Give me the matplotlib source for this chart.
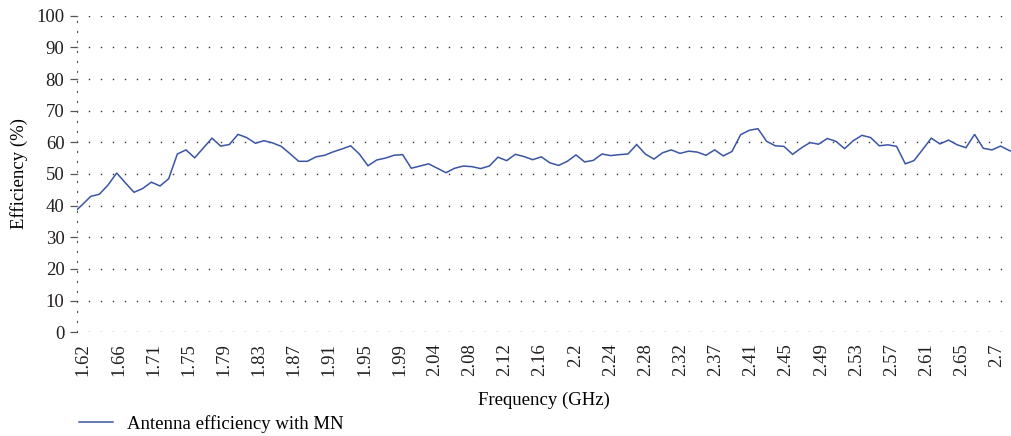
import numpy as np
import matplotlib
matplotlib.use("Agg")
import matplotlib.pyplot as plt

# Efficiency values (%) sampled along the frequency sweep (one per measurement step)
efficiency = [
    37.6, 40.2, 42.9, 43.6, 46.5, 50.3, 47.2, 44.2, 45.4, 47.4,
    46.2, 48.5, 56.3, 57.6, 55.1, 58.2, 61.3, 58.8, 59.3, 62.5,
    61.5, 59.7, 60.5, 59.8, 58.7, 56.4, 54.0, 54.0, 55.4, 55.9,
    57.0, 57.9, 58.9, 56.3, 52.6, 54.4, 55.0, 55.9, 56.1, 51.8,
    52.5, 53.2, 51.8, 50.4, 51.8, 52.5, 52.3, 51.7, 52.5, 55.3,
    54.2, 56.2, 55.5, 54.5, 55.4, 53.5, 52.7, 54.0, 56.0, 53.8,
    54.3, 56.3, 55.8, 56.1, 56.3, 59.3, 56.3, 54.7, 56.7, 57.6,
    56.5, 57.2, 56.9, 55.9, 57.6, 55.7, 57.1, 62.4, 63.8, 64.3,
    60.3, 58.9, 58.7, 56.2, 58.2, 59.9, 59.4, 61.2, 60.3, 58.0,
    60.5, 62.2, 61.5, 58.9, 59.2, 58.7, 53.2, 54.2, 57.7, 61.3,
    59.5, 60.7, 59.2, 58.3, 62.5, 58.1, 57.6, 58.8, 57.4, 56.6,
]

freq_labels = ["1.62", "1.66", "1.71", "1.75", "1.79", "1.83", "1.87", "1.91",
               "1.95", "1.99", "2.04", "2.08", "2.12", "2.16", "2.2", "2.24",
               "2.28", "2.32", "2.37", "2.41", "2.45", "2.49", "2.53", "2.57",
               "2.61", "2.65", "2.7"]

y_ticks = list(range(0, 101, 10))
series_name = "Antenna efficiency with MN"

FONT = "Liberation Serif"
FS = 13.5
LINE_COLOR = "#3b55a5"

fig = plt.figure(figsize=(10.11, 4.36), dpi=100)
ax = fig.add_axes([77 / 1011, 1 - 332.2 / 436, (1011 - 77) / 1011, (332.2 - 15.7) / 436])

x = np.arange(len(efficiency))
line, = ax.plot(x, efficiency, color=LINE_COLOR, lw=1.1, label=series_name,
                solid_joinstyle="miter")

ax.set_xlim(0.42, 108.2)
ax.set_ylim(0, 100)

# y axis
ax.set_yticks(y_ticks)
ax.set_yticklabels([str(v) for v in y_ticks], fontfamily=FONT, fontsize=FS, color="#231f20")
ax.tick_params(axis="y", length=5, width=0.9, color="#555555", pad=4)

# horizontal dotted grid (dots every ~12 px)
for v in y_ticks:
    ax.axhline(v, color="#333333", lw=1.0, ls=(0.5, (1, 7.64)), zorder=0)

# x axis category labels
tick_pos = np.linspace(1.15, 106.57, len(freq_labels))
ax.set_xticks(tick_pos)
ax.set_xticklabels(freq_labels, rotation=90, fontfamily=FONT, fontsize=FS, color="#231f20")
ax.tick_params(axis="x", length=0, pad=8)

for s in ["top", "right", "bottom"]:
    ax.spines[s].set_visible(False)
ax.spines["left"].set_linestyle((0, (1, 8)))
ax.spines["left"].set_color("#555555")
ax.spines["left"].set_linewidth(0.8)

ax.set_xlabel("Frequency (GHz)", fontfamily=FONT, fontsize=FS, labelpad=11)
ax.set_ylabel("Efficiency (%)", fontfamily=FONT, fontsize=FS, labelpad=6)

fig.legend(handles=[line], loc="center left", bbox_to_anchor=(79 / 1011, 12 / 436),
           frameon=False, borderpad=0, borderaxespad=0, handlelength=1.8,
           handletextpad=0.75, prop={"family": FONT, "size": FS})

fig.savefig("out.png", dpi=100)
